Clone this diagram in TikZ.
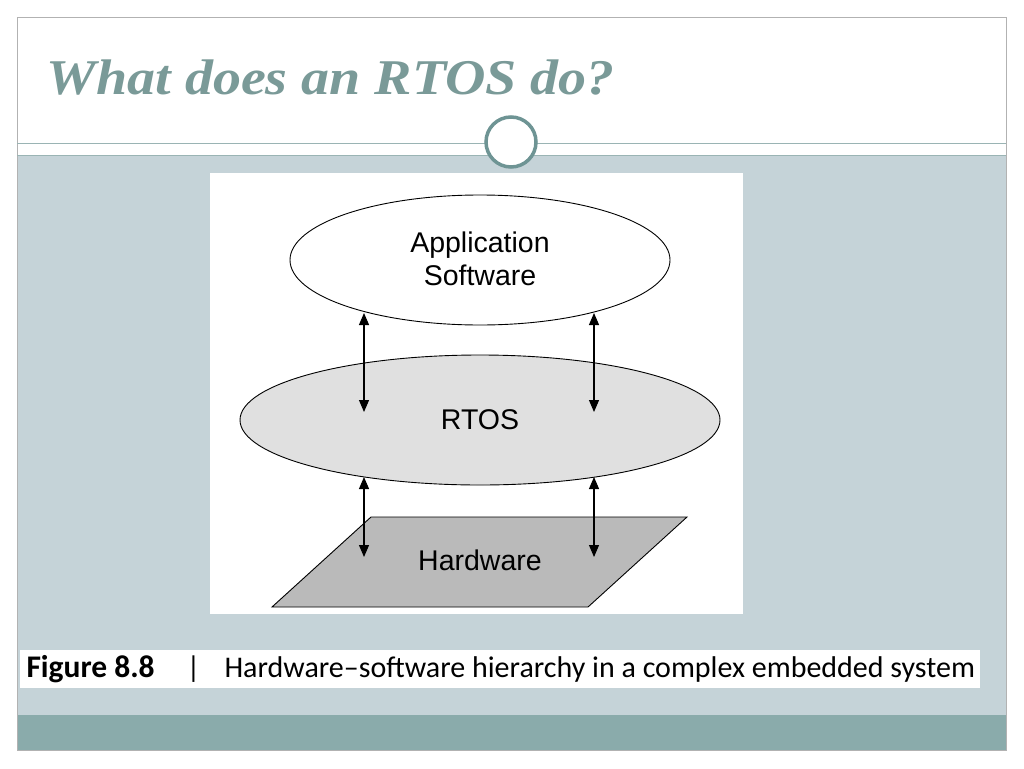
\documentclass[tikz,border=0pt]{standalone}
\usepackage{fontspec}
\setmainfont{Liberation Serif}
\newfontfamily\titlef[FakeStretch=1.12]{Liberation Serif}
\newfontfamily\arial{Liberation Sans}
\newfontfamily\calib{Carlito}
\usetikzlibrary{arrows.meta,shapes.geometric}
\definecolor{bgblue}{HTML}{C5D3D8}
\definecolor{band}{HTML}{8AABAB}
\definecolor{teal}{HTML}{6E9494}
\definecolor{titlec}{HTML}{7A9A98}
\tikzset{lay/.style={draw=black,line width=0.9pt},
 arr/.style={{Triangle[length=12pt,width=10pt]}-{Triangle[length=12pt,width=10pt]},line width=1.1pt},
 lbl/.style={font=\arial\fontsize{28.5}{33}\selectfont,align=center}}
\begin{document}
\begin{tikzpicture}[x=1pt,y=-1pt]
\useasboundingbox (0,0) rectangle (1024,768);
\fill[white] (0,0) rectangle (1024,768);
\fill[bgblue] (17,155) rectangle (1006,715);
\fill[band] (17,715) rectangle (1006,750);
\draw[gray!60] (17,17) rectangle (1006,750);
\draw[teal!70] (17,143) -- (1006,143);
\draw[teal!70] (17,155) -- (1006,155);
\node[anchor=west,text=titlec,font=\titlef\bfseries\itshape\fontsize{50}{56}\selectfont] (title) at (43,78) {What does an RTOS do?};
\node[circle,fill=white,draw=teal,line width=3.5pt,minimum size=50pt,inner sep=0] (c) at (511,142) {};
\fill[white] (210,173) rectangle (743,614);
\node[ellipse,lay,fill=white,minimum width=380pt,minimum height=130pt] (app) at (480,260) {};
\node[lbl] (appt) at (480,259) {Application\\Software};
\node[ellipse,lay,fill=black!12,minimum width=480pt,minimum height=130pt] (rtos) at (480,420) {};
\node[lbl] (rtost) at (480,420) {RTOS};
\draw[lay,fill=black!27] (272,607) -- (588,607) -- (687,517) -- (371,517) -- cycle;
\node[lbl] (hw) at (480,560) {Hardware};
\coordinate (a1) at (364,313); \coordinate (a2) at (364,412);
\coordinate (b1) at (594,313); \coordinate (b2) at (594,412);
\coordinate (c1) at (364,477); \coordinate (c2) at (364,557);
\coordinate (d1) at (594,477); \coordinate (d2) at (594,557);
\draw[arr] (a1) -- (a2); \draw[arr] (b1) -- (b2);
\draw[arr] (c1) -- (c2); \draw[arr] (d1) -- (d2);
\fill[white] (20,650) rectangle (980,688);
\node[anchor=west,font=\calib\bfseries\fontsize{31.5}{36}\selectfont] (fig) at (23,669) {Figure 8.8};
\node[anchor=west,font=\calib\fontsize{30}{34}\selectfont] (bar) at (183,669) {|};
\node[anchor=west,font=\calib\fontsize{30}{34}\selectfont] (cap) at (221,669) {Hardware–software hierarchy in a complex embedded system};
\end{tikzpicture}
\end{document}
